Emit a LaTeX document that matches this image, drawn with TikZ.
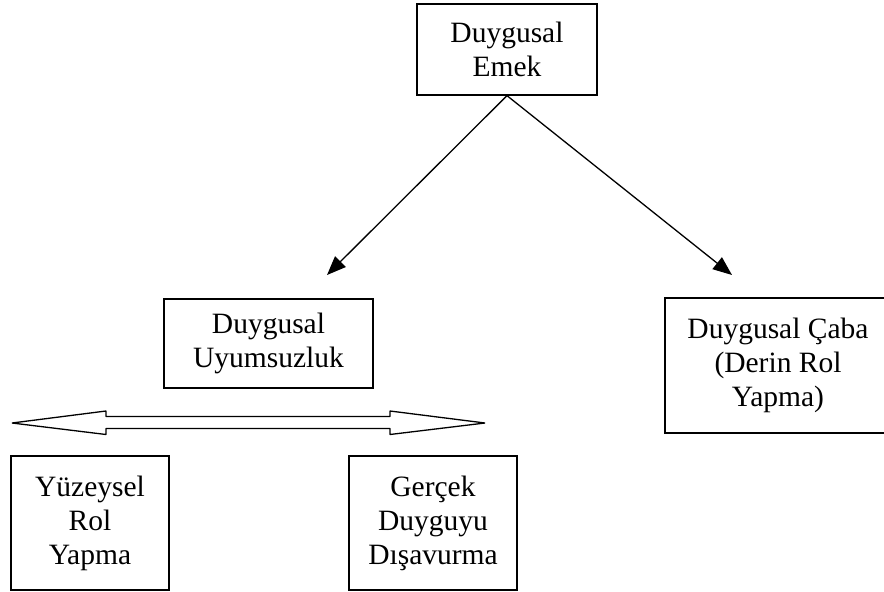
\documentclass[tikz,border=0pt]{standalone}
\usepackage{fontspec}
\setmainfont{Liberation Serif}
\usetikzlibrary{arrows.meta}
\begin{document}
\begin{tikzpicture}[x=1pt,y=-1pt,
  box/.style={draw,line width=1.3pt,inner sep=0pt,align=center,
    font=\fontsize{29.5}{34}\selectfont},
  link/.style={line width=1.3pt,-{Triangle[length=19pt,width=15pt]}},
  dblarrow/.style={draw,line width=1.3pt,fill=white,line join=bevel}]
\useasboundingbox (0,0) rectangle (884,592);
\clip (0,0) rectangle (884,592);
\node[box,minimum width=180pt,minimum height=91pt] (emek) at (507,49.5) {Duygusal\\Emek};
\node[box,minimum width=209pt,minimum height=89pt] (uyum) at (268.5,343.5) {Duygusal\\Uyumsuzluk};
\node[box,minimum width=226pt,minimum height=135pt] (caba) at (778,365.5) {Duygusal Çaba\\(Derin Rol\\Yapma)};
\node[box,minimum width=158pt,minimum height=134pt] (yuz) at (90,523) {Yüzeysel\\Rol\\Yapma};
\node[box,minimum width=168pt,minimum height=134pt] (gercek) at (433,523) {Gerçek\\Duyguyu\\Dışavurma};
\coordinate (tipL) at (327,275);
\coordinate (tipR) at (732,275);
\draw[link] (emek.south) -- (tipL);
\draw[link] (emek.south) -- (tipR);
\coordinate (aL) at (12,423);
\coordinate (aR) at (485,423);
\draw[dblarrow] (aL) -- (106,411) -- (106,416.5) -- (390,416.5) -- (390,411) -- (aR)
  -- (390,434.5) -- (390,428.5) -- (106,428.5) -- (106,434.5) -- cycle;
\end{tikzpicture}
\end{document}
